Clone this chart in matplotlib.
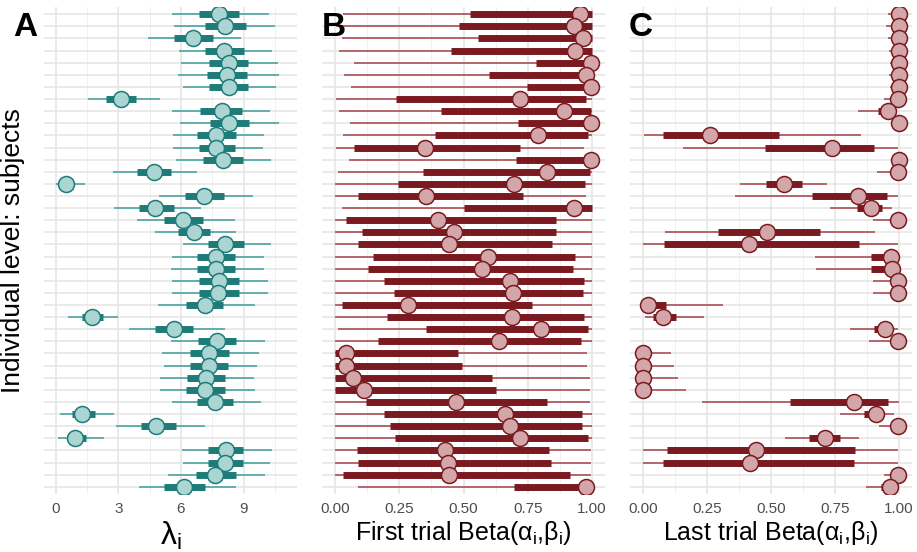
import numpy as np
import matplotlib.pyplot as plt

plt.rcParams['font.family'] = ['Liberation Sans', 'DejaVu Sans']
plt.rcParams['mathtext.fontset'] = 'custom'
plt.rcParams['mathtext.rm'] = 'Liberation Sans'

# subjects, top row first
n_subj = 40

# panel A: lambda_i (median, inner 66% interval, outer 95% interval)
lam_med = [7.81, 8.13, 6.58, 8.08, 8.29, 8.18, 8.29, 3.11, 7.94, 8.29, 7.69, 7.70, 8.00, 4.70,
           0.48, 7.11, 4.78, 6.09, 6.62, 8.13, 7.67, 7.67, 7.80, 7.78, 7.13, 1.75, 5.69, 7.72,
           7.35, 7.32, 7.19, 7.17, 7.64, 1.29, 4.83, 0.92, 8.15, 8.13, 7.64, 6.15]
lam_lo66 = [6.87, 7.14, 5.67, 7.14, 7.35, 7.24, 7.35, 2.42, 6.90, 7.37, 6.79, 6.84, 7.06, 3.89,
            0.25, 6.20, 3.97, 5.21, 5.84, 7.27, 6.76, 6.76, 6.87, 6.87, 6.22, 1.27, 4.77, 6.81,
            6.43, 6.43, 6.30, 6.22, 6.78, 0.80, 4.07, 0.53, 7.30, 7.30, 6.70, 5.21]
lam_hi66 = [8.78, 9.09, 7.51, 9.02, 9.23, 9.17, 9.22, 3.84, 8.90, 9.25, 8.61, 8.58, 8.95, 5.52,
            0.75, 8.07, 5.66, 7.05, 7.40, 9.02, 8.59, 8.59, 8.76, 8.76, 8.02, 2.25, 6.60, 8.63,
            8.31, 8.25, 8.13, 8.13, 8.48, 1.87, 5.76, 1.45, 8.96, 8.96, 8.61, 7.13]
lam_lo95 = [5.56, 5.66, 4.40, 5.90, 5.99, 5.87, 6.09, 1.55, 5.56, 5.94, 5.61, 5.61, 5.74, 2.73,
            0.02, 4.94, 2.78, 3.89, 4.75, 6.09, 5.58, 5.53, 5.58, 5.58, 4.89, 0.60, 3.51, 5.52,
            5.07, 5.17, 4.98, 5.01, 5.56, 0.21, 2.90, 0.13, 6.04, 6.11, 5.37, 3.97]
lam_hi95 = [10.19, 10.49, 8.85, 10.36, 10.62, 10.67, 10.53, 5.02, 10.27, 10.67, 9.95, 9.92, 10.30, 6.75,
            1.42, 9.43, 6.94, 8.58, 8.63, 10.33, 9.97, 9.97, 10.14, 10.14, 9.52, 3.00, 8.13, 10.00,
            9.73, 9.63, 9.50, 9.55, 9.81, 2.79, 7.13, 2.34, 10.35, 10.28, 10.00, 8.61]

# panel B: first trial Beta
b_med = [0.952, 0.931, 0.963, 0.935, 0.997, 0.978, 0.997, 0.718, 0.891, 0.995, 0.788, 0.351, 0.995, 0.826,
         0.696, 0.354, 0.930, 0.399, 0.462, 0.443, 0.597, 0.573, 0.680, 0.693, 0.284, 0.687, 0.800, 0.639,
         0.043, 0.043, 0.071, 0.114, 0.469, 0.662, 0.680, 0.719, 0.429, 0.439, 0.444, 0.975]
b_lo66 = [0.526, 0.483, 0.558, 0.452, 0.780, 0.601, 0.745, 0.239, 0.413, 0.712, 0.388, 0.075, 0.704, 0.344,
          0.244, 0.088, 0.503, 0.043, 0.106, 0.088, 0.148, 0.129, 0.190, 0.230, 0.029, 0.204, 0.353, 0.166,
          0.0, 0.0, 0.0, 0.0, 0.121, 0.190, 0.216, 0.235, 0.087, 0.091, 0.030, 0.697]
b_hi66 = [1.0, 1.0, 1.0, 1.0, 1.0, 1.0, 1.0, 0.977, 0.997, 1.0, 0.983, 0.721, 1.0, 0.993,
          0.971, 0.731, 1.0, 0.858, 0.861, 0.844, 0.934, 0.925, 0.967, 0.965, 0.765, 0.970, 0.984, 0.955,
          0.478, 0.493, 0.612, 0.627, 0.826, 0.961, 0.962, 0.982, 0.832, 0.840, 0.915, 1.0]
b_lo95 = [0.032, 0.003, 0.029, 0.016, 0.075, 0.035, 0.061, 0.004, 0.016, 0.058, 0.030, 0.004, 0.055, 0.013,
          0.0, 0.0, 0.026, 0.0, 0.0, 0.0, 0.0, 0.0, 0.0, 0.0, 0.0, 0.0, 0.013, 0.0,
          0.0, 0.0, 0.0, 0.0, 0.0, 0.0, 0.0, 0.0, 0.0, 0.0, 0.0, 0.091]
b_hi95 = [1.0, 1.0, 1.0, 1.0, 1.0, 1.0, 1.0, 1.0, 1.0, 1.0, 1.0, 0.970, 1.0, 1.0,
          1.0, 0.976, 1.0, 1.0, 1.0, 1.0, 1.0, 1.0, 1.0, 1.0, 1.0, 1.0, 1.0, 1.0,
          0.980, 0.980, 0.991, 0.991, 0.991, 1.0, 1.0, 1.0, 0.995, 0.997, 0.997, 1.0]

# panel C: last trial Beta
c_med = [0.999, 0.999, 0.999, 0.999, 0.999, 0.999, 0.999, 0.996, 0.956, 1.0, 0.261, 0.736, 0.999, 0.997,
         0.551, 0.840, 0.890, 0.994, 0.486, 0.416, 0.970, 0.971, 0.995, 0.995, 0.019, 0.077, 0.944, 0.995,
         0.0, 0.0, 0.0, 0.0, 0.822, 0.908, 0.995, 0.712, 0.440, 0.417, 0.997, 0.965]
c_lo66 = [0.99, 0.99, 0.99, 0.99, 0.99, 0.99, 0.99, 0.975, 0.919, 0.995, 0.078, 0.477, 0.99, 0.98,
          0.479, 0.660, 0.835, 0.975, 0.292, 0.082, 0.892, 0.892, 0.975, 0.975, 0.0, 0.04, 0.90, 0.975,
          0.0, 0.0, 0.0, 0.0, 0.575, 0.861, 0.98, 0.649, 0.094, 0.079, 0.985, 0.93]
c_hi66 = [1.0, 1.0, 1.0, 1.0, 1.0, 1.0, 1.0, 1.0, 0.971, 1.0, 0.532, 0.903, 1.0, 1.0,
          0.621, 0.951, 0.934, 1.0, 0.692, 0.842, 0.978, 0.978, 1.0, 1.0, 0.091, 0.131, 0.952, 1.0,
          0.02, 0.02, 0.025, 0.03, 0.958, 0.932, 1.0, 0.770, 0.829, 0.822, 1.0, 0.99]
c_lo95 = [0.956, 0.948, 0.958, 0.961, 0.965, 0.962, 0.965, 0.939, 0.839, 0.978, 0.004, 0.156, 0.978, 0.914,
          0.378, 0.361, 0.731, 0.896, 0.086, 0.0, 0.673, 0.675, 0.897, 0.897, 0.0, 0.01, 0.81, 0.882,
          0.0, 0.0, 0.0, 0.0, 0.230, 0.771, 0.922, 0.553, 0.0, 0.0, 0.939, 0.869]
c_hi95 = [1.0, 1.0, 1.0, 1.0, 1.0, 1.0, 1.0, 1.0, 0.991, 1.0, 0.851, 0.995, 1.0, 1.0,
          0.718, 0.997, 0.971, 1.0, 0.905, 0.995, 0.997, 0.997, 1.0, 1.0, 0.313, 0.238, 0.995, 1.0,
          0.11, 0.12, 0.136, 0.169, 1.0, 0.978, 1.0, 0.844, 0.995, 0.997, 1.0, 1.0]

teal = dict(thin='#64AEAB', thick='#1E7B78', fill='#AAD5D3')
red = dict(thin='#B3666B', thick='#7A1A20', fill='#D3A7A9')

fig = plt.figure(figsize=(9.17, 5.52), dpi=100)
W, H = 917, 552
bottom = (H - 494) / H
height = 487 / H
axA = fig.add_axes([44 / W, bottom, 253 / W, height])
axB = fig.add_axes([322 / W, bottom, 283 / W, height])
axC = fig.add_axes([630 / W, bottom, 282 / W, height])

y = np.arange(n_subj)


def draw_panel(ax, med, lo66, hi66, lo95, hi95, col, ticks, minor, xlim, labels, xlabel, xlsize=18):
    ax.set_xlim(*xlim)
    ax.set_ylim(n_subj - 0.4, -0.6)
    ax.set_xticks(ticks)
    ax.set_xticklabels(labels)
    ax.set_xticks(minor, minor=True)
    ax.set_yticks(y)
    ax.set_yticklabels([])
    for s in ax.spines.values():
        s.set_visible(False)
    ax.tick_params(length=0, which='both', labelsize=11, labelcolor='#4D4D4D', pad=6)
    ax.grid(True, which='major', color='#E6E6E6', lw=1.2, zorder=0)
    ax.grid(True, which='minor', axis='x', color='#F0F0F0', lw=0.7, zorder=0)
    ax.set_axisbelow(True)
    ax.hlines(y, lo95, hi95, color=col['thin'], lw=1.4, zorder=2)
    ax.hlines(y, lo66, hi66, color=col['thick'], lw=5, zorder=3)
    ax.plot(med, y, 'o', ms=11.5, mfc=col['fill'], mec=col['thick'], mew=1.1, zorder=4)
    ax.set_xlabel(xlabel, fontsize=xlsize, labelpad=2)


draw_panel(axA, lam_med, lam_lo66, lam_hi66, lam_lo95, lam_hi95, teal,
           [0, 3, 6, 9], [1.5, 4.5, 7.5, 10.5], (-0.55, 11.55), ['0', '3', '6', '9'],
           'λ$_\\mathregular{i}$', xlsize=23)
beta_ticks = [0, 0.25, 0.5, 0.75, 1.0]
beta_minor = [0.125, 0.375, 0.625, 0.875]
beta_labels = ['0.00', '0.25', '0.50', '0.75', '1.00']
draw_panel(axB, b_med, b_lo66, b_hi66, b_lo95, b_hi95, red,
           beta_ticks, beta_minor, (-0.05, 1.05), beta_labels,
           'First trial Beta(α$_\\mathregular{i}$,β$_\\mathregular{i}$)')
draw_panel(axC, c_med, c_lo66, c_hi66, c_lo95, c_hi95, red,
           beta_ticks, beta_minor, (-0.05, 1.05), beta_labels,
           'Last trial Beta(α$_\\mathregular{i}$,β$_\\mathregular{i}$)')

axA.set_ylabel('Individual level: subjects', fontsize=19, labelpad=8)

for lab, xp in [('A', 13), ('B', 322), ('C', 629)]:
    fig.text(xp / W, 1 - 36 / H, lab, fontsize=24, fontweight='bold', va='baseline', ha='left')

fig.savefig('out.png', dpi=100)
